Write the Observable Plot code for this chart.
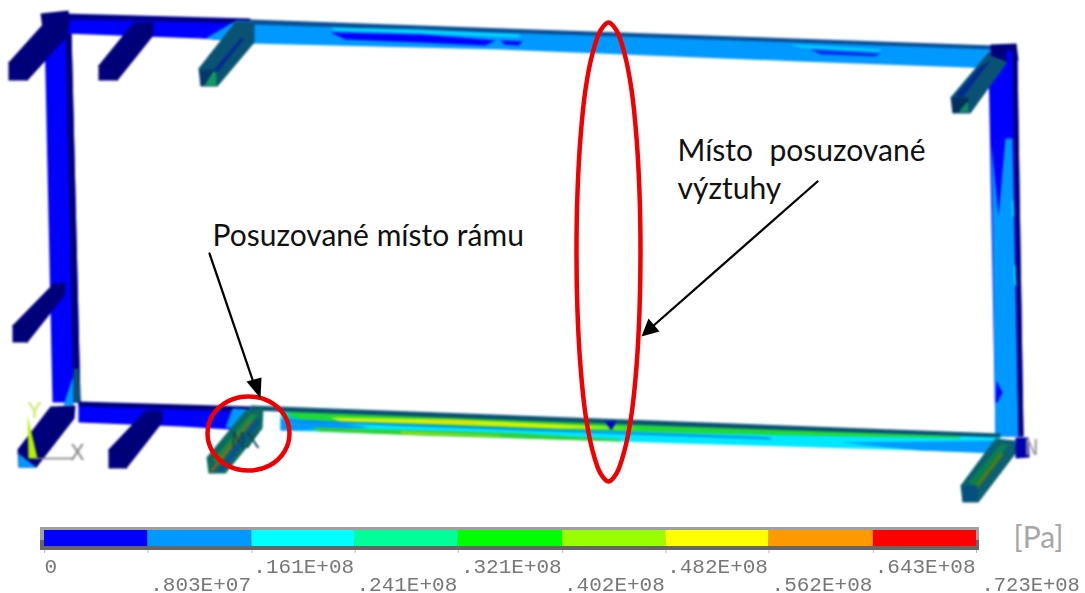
<!DOCTYPE html>
<html><head><meta charset="utf-8">
<script src="https://cdn.jsdelivr.net/npm/d3@7"></script>
<script src="https://cdn.jsdelivr.net/npm/@observablehq/plot@0.6"></script>
<style>
html,body{margin:0;padding:0;background:#fff;overflow:hidden}
svg{display:block}
#c{position:relative;width:1085px;height:593px}
#c svg{position:absolute;left:0}
</style></head><body><div id="c"></div>
<script>
// palette of the stress scale
const legendColors = ["#0000ff","#0099ff","#00ffff","#00ff99","#00ff00","#99ff00","#ffff00","#ff9900","#ff0000"];
const legendValues = [0,8.03e6,16.1e6,24.1e6,32.1e6,40.2e6,48.2e6,56.2e6,64.3e6,72.3e6];
const legendLabels = ["0",".803E+07",".161E+08",".241E+08",".321E+08",".402E+08",".482E+08",".562E+08",".643E+08",".723E+08"];
const navy="#00007c", teal="#0a5274", blue="#0000ff", light="#0099ff", cyan="#00e8ff", dark="#002a90";

// frame outline [x, y]
const topBeamBlue   = [[62,16],[250,21],[250,42],[200,38],[62,33]];
const topBeamDark   = [[62,13],[250,18],[250,23],[62,19]];
const topBeamLight  = [[236,20],[994,46],[994,68],[800,61],[500,49],[250,43],[205,38]];
const topBeamEdge   = [[250,19],[994,45],[994,49],[650,37],[250,24]];
const topCyan       = [[330,27],[420,29],[520,34],[518,37],[420,33],[335,30]];
const topBlue1      = [[330,32],[420,34],[495,40],[485,45],[420,42],[345,39]];
const topBlue2      = [[500,40],[522,41],[518,45],[504,44]];
const topBlue3      = [[810,49],[880,53],[875,56],[820,54]];
const topCyan2      = [[790,44],[880,49],[880,51],[800,47]];

const leftCol       = [[44,30],[71,30],[80,402],[52,402]];
const leftColDark   = [[65,30],[71,30],[80,402],[73,402]];
const leftPatch     = [[73,375],[73,405],[63,405]];
const leftPatchTeal = [[73,368],[78,368],[80,402],[73,402]];

const rightCol      = [[988,60],[1017,60],[1023,436],[995,436]];
const rightColLight = [[991,143],[998,216],[1005,138],[1012,138],[1018,436],[995,436]];
const rightColBlue  = [[996,380],[1002,392],[997,402],[995,402]];
const rightColDark  = [[1012,60],[1017,60],[1023,436],[1018,436]];
const rightCyan1    = [[1011,200],[1013,200],[1014,216],[1012,216]];
const rightCyan2    = [[1013,265],[1015,265],[1016,285],[1014,285]];

const bottomBlue    = [[78,403],[245,410],[245,430],[180,426],[78,422]];
const bottomDark    = [[78,401],[250,406],[250,411],[78,406]];
const bottomLightA  = [[232,408],[250,409],[250,430],[225,427]];
const bottomBase    = [[280,407],[1000,434],[1000,453],[920,450],[680,443],[280,430]];
const bottomEdge    = [[250,405],[1000,433],[1000,437],[680,426],[250,410]];
const bottomGreen   = [[285,411],[450,415],[700,426],[960,436],[960,438],[700,433],[450,426],[300,419]];
const bottomYellow  = [[330,417],[450,419],[560,424],[640,428],[560,428],[450,424],[340,421]];
const bottomOrange  = [[425,419],[475,421],[475,423],[425,421]];
const bottomGreen2  = [[310,427],[420,430],[520,433],[620,439],[620,441],[520,438],[420,435],[320,431]];
const bottomYellow2 = [[400,431],[500,435],[500,436],[400,433]];
const bottomLine    = [[285,419],[500,427],[770,437],[770,439],[500,429],[285,421]];
const bottomLightB  = [[280,418],[320,420],[370,427],[300,430],[280,430]];
const bottomLightC  = [[840,442],[1000,440],[1000,453],[920,450]];
const bottomNotch   = [[604,421],[616,421],[611,430]];
const bottomSpring  = [[285,414],[340,416],[340,420],[285,418]];

// cross-members
const stubTL    = [[8,62],[44,22],[68,22],[68,35],[27,80],[8,80]];
const stubTLcap = [[40,13],[68,10],[70,24],[62,30],[42,28]];
const stubT2    = [[98,65],[133,22],[153,22],[153,35],[117,80],[98,80]];
const stubT3    = [[198,68],[235,21],[254,21],[254,42],[217,86],[200,86]];
const stubT3b   = [[206,78],[240,38],[244,38],[212,78]];
const stubT3end = [[199,69],[216,69],[216,85],[200,85]];
const stubT3grn = [[204,85],[213,71],[216,72],[216,85]];

const stubR     = [[950,97],[988,52],[1006,52],[1006,63],[970,113],[952,113]];
const stubRb    = [[955,95],[980,66],[990,60],[962,97]];
const stubRend  = [[951,97],[968,97],[968,112],[952,112]];
const stubRgrn  = [[958,112],[966,102],[968,102],[968,112]];
const capR      = [[990,44],[1016,43],[1018,60],[1011,63],[990,55]];
const capRblue  = [[1006,50],[1012,50],[1012,64],[1007,64]];

const stubL     = [[12,325],[53,283],[65,282],[65,294],[27,342],[12,342]];

const stubBL    = [[17,449],[50,406],[75,405],[74,418],[36,467],[18,467]];
const stubBLend = [[18,453],[28,461],[36,467],[18,467]];
const stubB2    = [[108,449],[145,410],[162,410],[162,422],[126,468],[108,468]];
const stubB3    = [[206,457],[245,410],[263,408],[262,428],[225,473],[208,473]];
const stubB3a   = [[212,460],[250,414],[257,414],[220,462]];
const stubB3red = [[210,470],[250,420],[251,421],[212,471]];
const stubB3blu = [[216,471],[257,418],[260,421],[222,471]];

const stubBR    = [[960,485],[995,438],[1015,440],[1016,452],[978,502],[962,502]];
const stubBRa   = [[968,482],[1000,444],[1008,444],[975,486]];
const stubBRgrn = [[964,499],[1000,452],[1003,454],[967,501]];
const stubBRend = [[961,485],[977,485],[977,501],[962,501]];
const capBR     = [[1015,437],[1028,437],[1029,457],[1015,458]];

const modelParts = [
 [leftCol,blue],[leftColDark,navy],[leftPatch,light],[leftPatchTeal,teal],
 [rightCol,blue],[rightColLight,light],[rightColBlue,blue],[rightColDark,navy],[rightCyan1,"#00ddee"],[rightCyan2,"#00ddee"],
 [topBeamBlue,blue],[topBeamDark,"#00008c"],[topBeamLight,light],[topBeamEdge,"#0a4f96"],[topCyan,"#00d8ff"],[topBlue1,blue],[topBlue2,blue],[topBlue3,"#0030ee"],[topCyan2,"#00d8ff"],
 [bottomBlue,blue],[bottomDark,navy],[bottomLightA,light],
 [bottomBase,cyan],[bottomLightB,light],[bottomLightC,light],[bottomSpring,"#00cc99"],[bottomGreen,"#20d838"],[bottomEdge,teal],[bottomYellow,"#d8f000"],[bottomOrange,"#f0d800"],[bottomGreen2,"#30d030"],[bottomYellow2,"#b0e000"],[bottomLine,"#0088ee"],[bottomNotch,"#0000cc"],
 [stubTLcap,navy],[stubTL,navy],[stubT2,navy],
 [stubT3,teal],[stubT3b,dark],[stubT3end,"#04386a"],[stubT3grn,"#109a60"],
 [stubR,teal],[stubRb,dark],[stubRend,"#04305e"],[stubRgrn,"#108a60"],[capR,navy],[capRblue,blue],
 [stubL,navy],
 [stubBL,navy],[stubBLend,light],[stubB2,navy],
 [stubB3,"#0a6a60"],[stubB3a,"#1a8a40"],[stubB3blu,"#0a4f96"],[stubB3red,"#b05a10"],
 [stubBR,"#0a6070"],[stubBRa,"#0a8050"],[stubBRgrn,"#557a10"],[stubBRend,"#04507e"],[capBR,"#0000b0"]
];

// member edge lines
const edgeLines = [
 [[8,62],[27,62],[27,80]], [[27,62],[65,22]],
 [[98,65],[117,65],[117,80]], [[117,65],[153,22]],
 [[12,325],[27,325],[27,342]], [[27,325],[65,282]],
 [[36,452],[74,406]],
 [[108,450],[126,450],[126,468]], [[126,450],[162,410]]
];

// coordinate triad
const triadY = [[27,415],[37,458],[28,458]];
const triadX = [[35,458],[72,458]];

// annotation ellipses, read around their outline
const bigEllipse = [[608,22],[616,30],[624,53],[631,89],[636,137],[639,192],[640,252],[639,311],[636,366],[631,414],[624,450],[616,473],[608,481],[600,473],[592,450],[585,414],[580,366],[577,311],[576,252],[577,192],[580,137],[585,89],[592,53],[600,30]];
const smallEllipse = [[248,396],[269,401],[284,415],[289,433],[284,451],[269,465],[248,470],[227,465],[212,451],[207,433],[212,415],[227,401]];

// arrows
const arrow1 = [[209,253],[254,385]];
const arrow1Head = [[260,398],[246,381],[261,377]];
const arrow2 = [[817,181],[652,326]];
const arrow2Head = [[641,336],[648,318],[659,331]];

const textsStart = [
 {x:212,y:245,t:"Posuzované místo rámu"},
 {x:677,y:160,t:"Místo"},
 {x:677,y:198,t:"výztuhy"}
];
const textsEnd = [{x:925,y:160,t:"posuzované"}];
const triadLabels = [{x:34,y:417,t:"Y",c:"#c8e864"},{x:77,y:459,t:"X",c:"#888"},{x:1031,y:454,t:"N",c:"#999"},{x:245,y:447,t:"MX",c:"#0a4a50"}];

const X=d=>d[0], Y=d=>d[1];
const pxX={domain:[0,1085],range:[0,1085],axis:null};
const pxY={domain:[0,593],range:[0,593],axis:null};

const model = Plot.plot({width:1085,height:520,margin:0,x:pxX,y:{domain:[0,520],range:[0,520],axis:null},
 style:{filter:"blur(.8px)"},
 marks:[
 ...modelParts.map(([p,c])=>Plot.line(p,{x:X,y:Y,fill:c,stroke:"none",curve:"linear-closed"})),
 ...edgeLines.map(p=>Plot.line(p,{x:X,y:Y,stroke:"#000044",strokeWidth:.8})),
 Plot.line(triadY,{x:X,y:Y,fill:"#b4f000",stroke:"none",curve:"linear-closed"}),
 Plot.line(triadX,{x:X,y:Y,stroke:"#777",strokeWidth:1.5}),
 Plot.text(triadLabels,{x:"x",y:"y",text:"t",fill:"c",fontFamily:"Liberation Mono",fontSize:24,lineAnchor:"bottom",textAnchor:"middle"})
 ]});

const bins = legendColors.map((c,i)=>({lo:legendValues[i],hi:legendValues[i+1]}));
const rows = legendLabels.map((t,i)=>({v:i==0||i==9?legendValues[i]:legendValues[i+1],t,row:i%2?590:572}));
const legend = Plot.plot({width:1085,height:73,marginTop:0,marginBottom:0,marginLeft:44,marginRight:109,
  x:{domain:[0,72.3e6],axis:null},
  y:{domain:[520,593],range:[0,73],axis:null},
  color:{type:"threshold",domain:legendValues.slice(1,9),range:legendColors},
  style:{filter:"blur(.5px)"},
  marks:[
   Plot.rect([{}],{x1:()=>-0.31e6,x2:()=>72.53e6,y1:()=>527,y2:()=>540,fill:"#a0a0a0"}),
   Plot.rect([{}],{x1:()=>-0.31e6,x2:()=>72.53e6,y1:()=>540,y2:()=>550,fill:"#666"}),
   Plot.rect(bins,{x1:"lo",x2:"hi",y1:()=>530,y2:()=>546,fill:"lo"}),
   Plot.ruleX(legendValues,{y1:()=>550,y2:()=>553,stroke:"#bbb"}),
   Plot.text(rows.slice(0,1),{x:"v",y:"row",text:"t",textAnchor:"start",lineAnchor:"bottom",fontFamily:"Liberation Mono",fontSize:21,fill:"#777"}),
   Plot.text(rows.slice(1,9),{x:"v",y:"row",text:"t",textAnchor:"end",lineAnchor:"bottom",dx:-1,fontFamily:"Liberation Mono",fontSize:21,fill:"#777"}),
   Plot.text(rows.slice(9),{x:"v",y:"row",text:"t",textAnchor:"start",dx:5,lineAnchor:"bottom",fontFamily:"Liberation Mono",fontSize:20.5,fill:"#777"})
  ]});
legend.style.top="520px";

const notes = Plot.plot({width:1085,height:593,margin:0,x:pxX,y:pxY,
 style:{background:"transparent"},
 marks:[
 Plot.line(bigEllipse,{x:X,y:Y,stroke:"#f00000",strokeWidth:4.5,curve:"catmull-rom-closed"}),
 Plot.line(smallEllipse,{x:X,y:Y,stroke:"#f00000",strokeWidth:4.5,curve:"catmull-rom-closed"}),
 Plot.line(arrow1,{x:X,y:Y,stroke:"#000",strokeWidth:2.3}),
 Plot.line(arrow1Head,{x:X,y:Y,fill:"#000",stroke:"none",curve:"linear-closed"}),
 Plot.line(arrow2,{x:X,y:Y,stroke:"#000",strokeWidth:2.3}),
 Plot.line(arrow2Head,{x:X,y:Y,fill:"#000",stroke:"none",curve:"linear-closed"}),
 Plot.text(textsStart,{x:"x",y:"y",text:"t",textAnchor:"start",lineAnchor:"bottom",fontFamily:"Lato",fontSize:30,fill:"#111"}),
 Plot.text(textsEnd,{x:"x",y:"y",text:"t",textAnchor:"end",lineAnchor:"bottom",fontFamily:"Lato",fontSize:30,fill:"#111"}),
 Plot.text([{x:1013,y:547,t:"[Pa]"}],{x:"x",y:"y",text:"t",textAnchor:"start",lineAnchor:"bottom",fontFamily:"Lato",fontSize:30,fill:"#a6a6a6"})
 ]});
notes.style.top="0";

const root=document.getElementById("c");
root.append(model,legend,notes);
</script></body></html>
